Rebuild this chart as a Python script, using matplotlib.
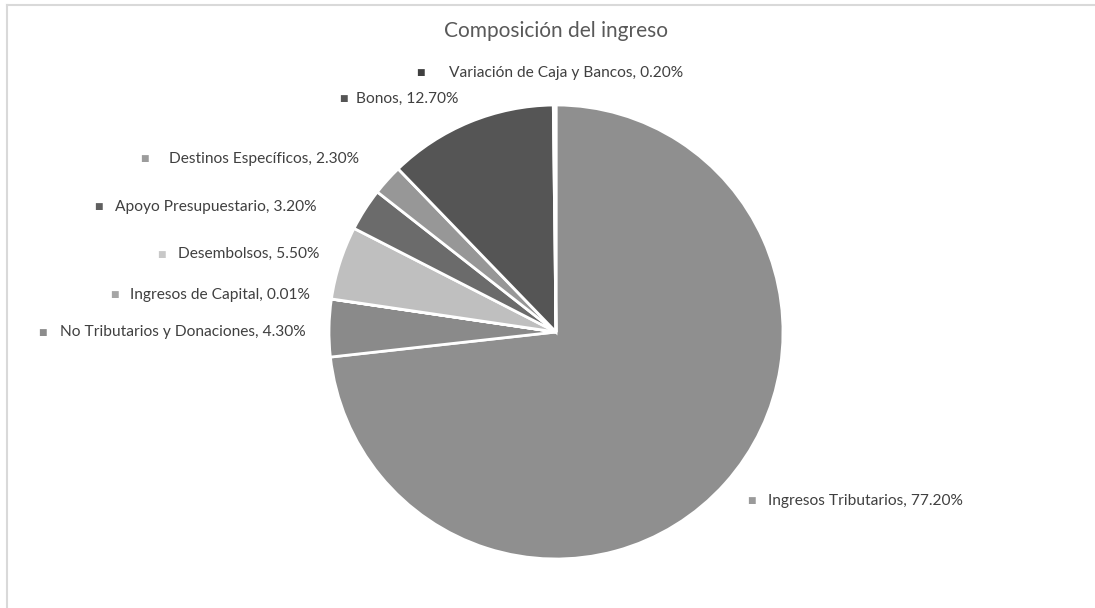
import matplotlib
matplotlib.use("Agg")
import matplotlib.pyplot as plt
from matplotlib.lines import Line2D

plt.rcParams['font.family'] = ['Lato', 'DejaVu Sans']

title = "Composición del ingreso"
categories = ["Ingresos Tributarios", "No Tributarios y Donaciones", "Ingresos de Capital",
              "Desembolsos", "Apoyo Presupuestario", "Destinos Específicos", "Bonos",
              "Variación de Caja y Bancos"]
values = [77.2, 4.3, 0.01, 5.5, 3.2, 2.3, 12.7, 0.2]
value_labels = ["77.20%", "4.30%", "0.01%", "5.50%", "3.20%", "2.30%", "12.70%", "0.20%"]

colors = ["#8f8f8f", "#8a8a8a", "#a3a3a3", "#bfbfbf", "#6b6b6b", "#979797", "#555555", "#3f3f3f"]
marker_colors = ["#9a9a9a", "#8c8c8c", "#a5a5a5", "#c8c8c8", "#5f5f5f", "#9c9c9c", "#555555", "#404040"]
# label layout: (marker x px, text x px, y px) in figure pixels
label_layout = [(751, 768, 501), (42, 60, 332), (114, 130, 295), (161, 178, 254),
                (98, 115, 207), (144, 169, 159), (343, 356, 99), (420, 449, 73)]

W, H = 1095, 608
fig = plt.figure(figsize=(W / 100, H / 100), dpi=100)

# border
fig.add_artist(Line2D([7 / W, 7 / W], [0, 1 - 5 / H], color="#d9d9d9", lw=1.5, transform=fig.transFigure))
fig.add_artist(Line2D([7 / W, 1], [1 - 5 / H, 1 - 5 / H], color="#d9d9d9", lw=1.5, transform=fig.transFigure))

cx, cy, r = 556, 332, 227
ax = fig.add_axes([(cx - r) / W, (H - cy - r) / H, 2 * r / W, 2 * r / H])
ax.pie(values, colors=colors, startangle=90, counterclock=False,
       wedgeprops=dict(edgecolor="white", linewidth=2))
ax.set_xlim(-1, 1)
ax.set_ylim(-1, 1)
ax.set_aspect("equal")
ax.axis("off")

fig.text(cx / W, 1 - 31 / H, title, ha="center", va="center", fontsize=15, color="#595959")

for cat, vl, mc, (mx, tx, y) in zip(categories, value_labels, marker_colors, label_layout):
    fig.text(mx / W, 1 - y / H, "■", ha="center", va="center", fontsize=6.5, color=mc,
             family=['DejaVu Sans'])
    fig.text(tx / W, 1 - y / H, f"{cat}, {vl}", ha="left", va="center", fontsize=11.2, color="#404040")

fig.savefig("out.png", dpi=100, facecolor="white")
